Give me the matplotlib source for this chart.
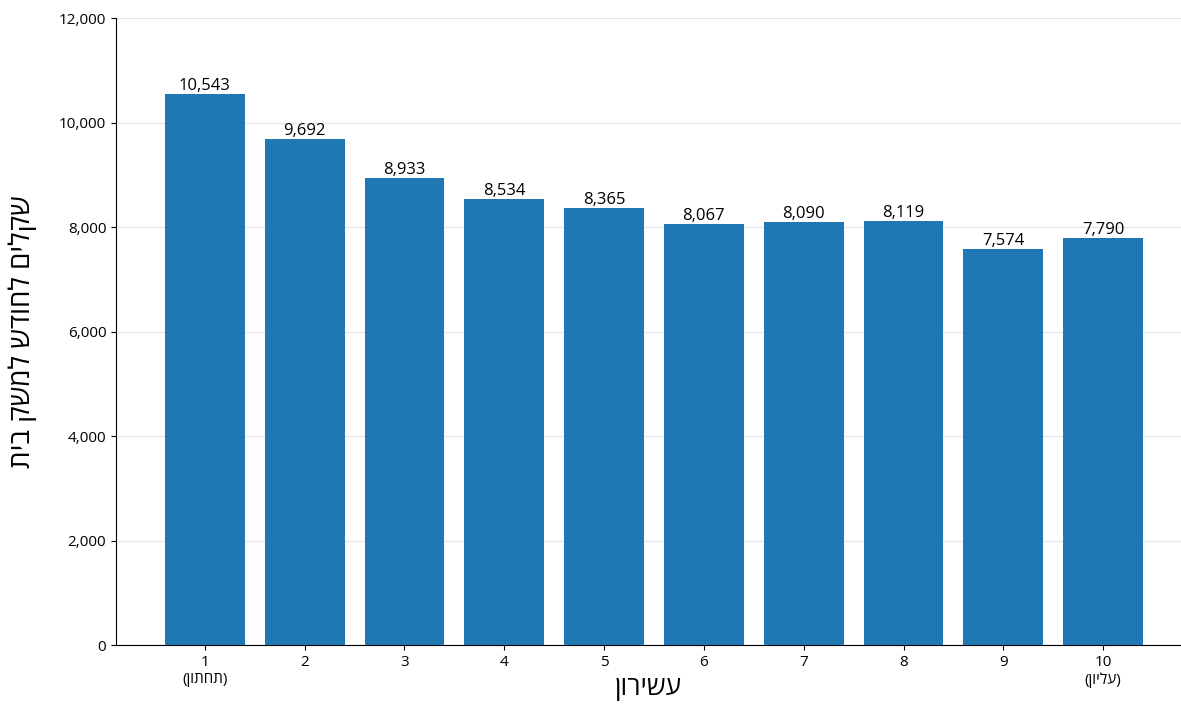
import matplotlib
matplotlib.use("Agg")
import matplotlib.pyplot as plt
from matplotlib.ticker import FuncFormatter

plt.rcParams['font.family'] = ['Open Sans', 'DejaVu Sans']

deciles = [1, 2, 3, 4, 5, 6, 7, 8, 9, 10]
values = [10543, 9692, 8933, 8534, 8365, 8067, 8090, 8119, 7574, 7790]
bottom_word = "תחתון"
top_word = "עליון"
ylabel_text = "שקלים לחודש למשק בית"
xlabel_text = "עשירון"


def vis(s):
    # matplotlib has no bidi support, so flip Hebrew for display
    return s[::-1]


tick_labels = [str(d) for d in deciles]
tick_labels[0] = "1\n(" + vis(bottom_word) + ")"
tick_labels[-1] = "10\n(" + vis(top_word) + ")"

fig = plt.figure(figsize=(11.81, 7.04), dpi=100)
ax = fig.add_axes([0.0982, 0.0838, 0.9018, 0.8906])

bars = ax.bar(deciles, values, width=0.8, color='#1f77b4', zorder=3)
ax.bar_label(bars, labels=[f"{v:,}" for v in values], fontsize=12, padding=0)

ax.set_xlim(0.11, 10.78)
ax.set_ylim(0, 12000)
ax.set_yticks(range(0, 12001, 2000))
ax.yaxis.set_major_formatter(FuncFormatter(lambda v, p: f"{int(v):,}"))
ax.set_xticks(deciles)
ax.set_xticklabels(tick_labels, fontsize=11)
ax.tick_params(axis='y', labelsize=11)
ax.grid(axis='y', color='#e6e6e6', linewidth=1, zorder=0)

for side in ['top', 'right']:
    ax.spines[side].set_visible(False)

ax.set_ylabel(vis(ylabel_text), fontsize=20, labelpad=16)
ax.set_xlabel(vis(xlabel_text), fontsize=19, labelpad=-8)

fig.savefig("out.png", dpi=100)
